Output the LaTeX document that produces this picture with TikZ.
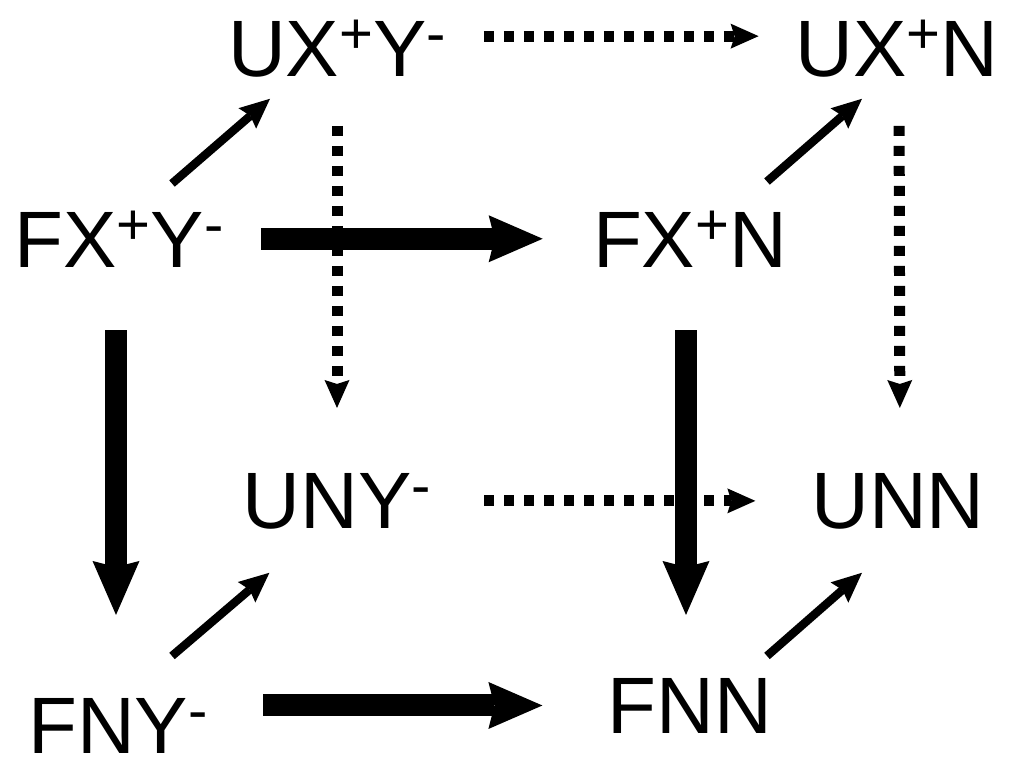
\documentclass[tikz,border=0pt]{standalone}
\usepackage{fontspec}
\setmainfont{Liberation Sans}
\usetikzlibrary{arrows.meta}

% raised charge sign
\newcommand{\chg}[1]{\raisebox{11.5pt}{\fontsize{29}{30}\selectfont #1}}

\begin{document}
\begin{tikzpicture}[x=0.5pt, y=0.5pt,
  state/.style={inner sep=0pt, outer sep=0pt, anchor=base, font=\fontsize{40}{48}\selectfont},
  bigarrow/.style={line width=11pt, -{Stealth[length=27pt, width=23.5pt, inset=3pt, line width=0pt]}},
  thinarrow/.style={line width=4.2pt, -{Stealth[length=15pt, width=13.5pt, inset=2pt, line width=0pt]}},
  dotarrow/.style={line width=5.5pt, dash pattern=on 5pt off 5pt, -{Stealth[length=14pt, width=12.5pt, inset=2pt, line width=0pt]}}]

  \useasboundingbox (0,0) rectangle (1024,768);

  % ---- states (base line positions) ----
  \node[state] (uxy) at (337, 691) {UX\chg{+}Y\chg{-}};
  \node[state] (uxn) at (897, 691) {UX\chg{+}N};
  \node[state] (fxy) at (119, 501) {FX\chg{+}Y\chg{-}};
  \node[state] (fxn) at (690, 501) {FX\chg{+}N};
  \node[state] (uny) at (337, 240) {UNY\chg{-}};
  \node[state] (unn) at (898, 240) {UNN};
  \node[state] (fny) at (118, 15)  {FNY\chg{-}};
  \node[state] (fnn) at (690, 35)  {FNN};

  % ---- unfolded face: dotted ----
  \draw[dotarrow, shorten <=19pt, shorten >=18.5pt]
    ([yshift=6.5pt]uxy.east) -- ([yshift=6.5pt]uxn.west);
  \draw[dotarrow, shorten <=24pt, shorten >=32.5pt] (uxy.south) -- (uny.north);
  \draw[dotarrow, shorten <=24pt, shorten >=32.5pt] ([xshift=1pt]uxn.south) -- ([xshift=1pt]unn.north);
  \draw[dotarrow, shorten <=26.5pt, shorten >=28pt] (uny.east) -- (unn.west);

  % ---- folded face: thick ----
  \draw[bigarrow, shorten <=18.7pt, shorten >=25.2pt] (fxy.east) -- (fxn.west);
  \draw[bigarrow, shorten <=27.7pt, shorten >=32.7pt] (fny.east |- fnn.west) -- (fnn.west);
  \draw[bigarrow, shorten <=31.5pt, shorten >=41.5pt] ([xshift=-1.5pt]fxy.south) -- ([xshift=-1pt]fny.north);
  \draw[bigarrow, shorten <=31.5pt, shorten >=31.5pt] ([xshift=-2pt]fxn.south) -- ([xshift=-2pt]fnn.north);

  % ---- folded to unfolded: thin diagonals ----
  \draw[thinarrow] ([shift={(53,27)}]fxy.north) -- ([shift={(-67,-21)}]uxy.south);
  \draw[thinarrow] ([shift={(77,29)}]fxn.north) -- ([shift={(-35,-21)}]uxn.south);
  \draw[thinarrow] ([shift={(54,42)}]fny.north) -- ([shift={(-67.6,-44)}]uny.south);
  \draw[thinarrow] ([shift={(77,22)}]fnn.north) -- ([shift={(-36,-44)}]unn.south);

\end{tikzpicture}
\end{document}
